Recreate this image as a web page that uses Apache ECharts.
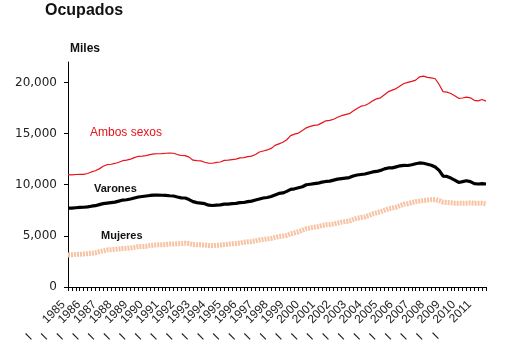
<!DOCTYPE html>
<html>
<head>
<meta charset="utf-8">
<script src="https://cdn.jsdelivr.net/npm/echarts@6/dist/echarts.min.js"></script>
<style>
html,body{margin:0;padding:0;background:#fff;}
#chart{width:518px;height:357px;}
</style>
</head>
<body>
<div id="chart"></div>
<script>
// Years shown on the axis (quarterly data, 1985-I to 2011-IV)
const years = [1985,1986,1987,1988,1989,1990,1991,1992,1993,1994,1995,1996,1997,1998,1999,2000,2001,2002,2003,2004,2005,2006,2007,2008,2009,2010,2011];
const quarters = ['I','II','III','IV'];

// Ocupados, miles — quarterly values
const ambosSexos = [
  10980,10960,11000,11010, 11020,11100,11250,11370, 11550,11800,11960,12000,
  12080,12200,12350,12400, 12500,12650,12780,12800, 12850,12950,13010,13030,
  13050,13080,13100,13080, 12950,12860,12840,12700, 12400,12350,12330,12200,
  12120,12100,12180,12220, 12380,12400,12450,12500, 12620,12650,12750,12800,
  12950,13200,13300,13400, 13550,13850,14000,14150, 14400,14800,14950,15050,
  15300,15560,15700,15800, 15850,16050,16250,16300, 16400,16600,16750,16860,
  16950,17200,17450,17680, 17750,17950,18200,18400, 18500,18800,19100,19250,
  19400,19650,19900,20000, 20100,20230,20550,20620, 20500,20450,20360,19800,
  19100,19050,18920,18700, 18450,18480,18560,18500, 18250,18200,18330,18170
];
const varones = [
  7720,7720,7750,7780, 7800,7830,7900,7950, 8050,8150,8200,8250,
  8300,8400,8500,8530, 8600,8700,8800,8850, 8900,8950,8990,8980,
  8970,8960,8920,8900, 8800,8720,8700,8550, 8350,8250,8200,8150,
  8000,7970,8000,8030, 8100,8110,8150,8180, 8250,8260,8350,8400,
  8500,8600,8700,8750, 8850,9000,9150,9200, 9350,9550,9600,9700,
  9800,10000,10050,10100, 10150,10250,10320,10350, 10450,10550,10600,10650,
  10700,10850,10950,11000, 11050,11150,11250,11300, 11400,11550,11640,11650,
  11750,11850,11900,11880, 11950,12050,12130,12100, 12000,11900,11740,11400,
  10850,10810,10650,10450, 10220,10300,10390,10300, 10100,10070,10100,10070
];
const mujeres = [
  3140,3150,3180,3200, 3220,3260,3300,3350, 3450,3550,3630,3650,
  3680,3720,3760,3780, 3820,3880,3950,3960, 3980,4050,4100,4120,
  4130,4150,4200,4200, 4230,4250,4280,4250, 4150,4120,4120,4100,
  4060,4050,4080,4100, 4150,4190,4230,4250, 4300,4380,4420,4450,
  4500,4600,4650,4700, 4750,4850,4930,4980, 5050,5200,5300,5400,
  5550,5700,5780,5850, 5900,6000,6080,6100, 6150,6250,6340,6400,
  6450,6600,6730,6800, 6850,7000,7150,7250, 7350,7500,7650,7720,
  7800,7950,8100,8150, 8250,8350,8400,8460, 8500,8530,8550,8450,
  8300,8260,8230,8200, 8200,8180,8200,8220, 8180,8200,8200,8140
];
const yTicks = [0,5000,10000,15000,20000];
const seriesNames = ['Ambos sexos','Varones','Mujeres'];
const titleText = 'Ocupados';
const unitText = 'Miles';

const categories = [];
years.forEach(y => quarters.forEach(q => categories.push(q + '|' + y)));

const chart = echarts.init(document.getElementById('chart'), null, {renderer:'canvas'});
const FONT = 'Liberation Sans, Arial, sans-serif';

chart.setOption({
  animation:false,
  backgroundColor:'#ffffff',
  grid:{left:68, right:32, top:62, bottom:70, containLabel:false},
  xAxis:{
    type:'category',
    data:categories,
    boundaryGap:false,
    axisLine:{lineStyle:{color:'#000', width:1}},
    axisTick:{show:true, interval:0, length:4, lineStyle:{color:'#000'}},
    axisLabel:{
      interval:0, rotate:45, margin:11, lineHeight:9,
      showMinLabel:true, showMaxLabel:true, hideOverlap:false,
      fontFamily:FONT, fontSize:12, color:'#222',
      formatter:function(v){
        const p=v.split('|');
        return p[0] === 'I' ? (p[0] + '      ' + p[1] + '  ') : '';
      }
    },
    splitLine:{show:false}
  },
  yAxis:{
    type:'value', min:0, max:22000, interval:5000,
    axisLine:{show:true, lineStyle:{color:'#000', width:1}},
    axisTick:{show:true, length:4, customValues:yTicks, lineStyle:{color:'#000'}},
    axisLabel:{
      customValues:yTicks, margin:11,
      fontFamily:'DejaVu Sans, sans-serif', fontSize:12, color:'#222',
      formatter:function(v){ return Number(v).toLocaleString('en-US'); }
    },
    splitLine:{show:false}
  },
  series:[
    {name:seriesNames[0], type:'line', data:ambosSexos, showSymbol:false, symbol:'none',
     lineStyle:{color:'#e8131b', width:1.2}},
    {name:seriesNames[1], type:'line', data:varones, showSymbol:false, symbol:'none',
     lineStyle:{color:'#000000', width:3.2}},
    {name:seriesNames[2], type:'line', data:mujeres, showSymbol:false, symbol:'none',
     lineStyle:{color:'#f7c3a4', width:5, type:[2,1]}}
  ],
  graphic:[
    {type:'text', left:45, top:3, style:{text:titleText, font:'bold 16px ' + FONT, fill:'#111'}},
    {type:'text', left:70, top:43, style:{text:unitText, font:'bold 12px ' + FONT, fill:'#111'}},
    {type:'text', left:90, top:127, style:{text:seriesNames[0], font:'12px ' + FONT, fill:'#e8131b'}},
    {type:'text', left:94, top:183, style:{text:seriesNames[1], font:'bold 11px ' + FONT, fill:'#111'}},
    {type:'text', left:101, top:230, style:{text:seriesNames[2], font:'bold 11px ' + FONT, fill:'#111'}}
  ]
});
</script>
</body>
</html>
